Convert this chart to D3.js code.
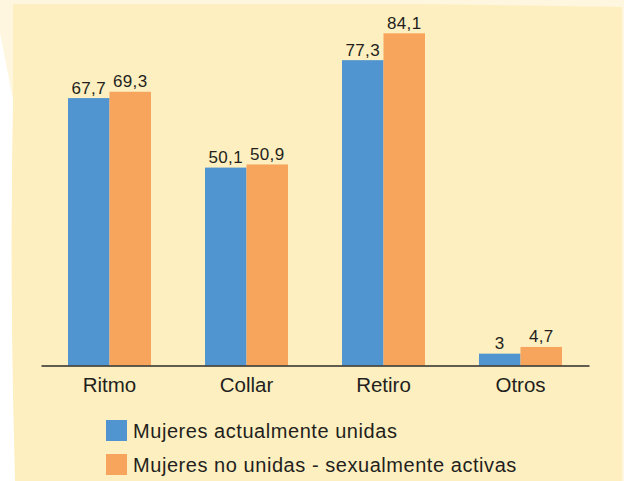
<!DOCTYPE html>
<html>
<head>
<meta charset="utf-8">
<script src="https://cdn.jsdelivr.net/npm/d3@7/dist/d3.min.js"></script>
<style>
  html, body { margin: 0; padding: 0; background: #ffffff; }
  svg { display: block; }
  text { font-family: "Liberation Sans", Arial, Helvetica, sans-serif; fill: #231f20; }
</style>
</head>
<body>
<svg id="chart" width="624" height="481"></svg>
<script>
// Métodos anticonceptivos naturales (%)
const categories = ["Ritmo", "Collar", "Retiro", "Otros"];
const seriesNames = ["Mujeres actualmente unidas", "Mujeres no unidas - sexualmente activas"];
const unidas = [67.7, 50.1, 77.3, 3];
const noUnidas = [69.3, 50.9, 84.1, 4.7];
const colors = ["#5094d0", "#f7a45c"];

const W = 624, H = 481;
const svg = d3.select("#chart");

// Paper-like backdrop
svg.append("rect").attr("width", W).attr("height", H).attr("fill", "#ffffff");
svg.append("path")
  .attr("d", "M0,0 L624,0 L624,481 L620,481 L620,10 L13,10 L13,100 L0,33 Z")
  .attr("fill", "#fef6de");
svg.append("path")
  .attr("d", "M13,4 L420,4 L622,7 L622,481 L15,481 L14,440 L13,395 L12,330 L11.5,250 L12,170 L13,100 Z")
  .attr("fill", "#fdefbf");

const baseY = 365.5;
const x0 = d3.scaleBand().domain(categories).range([41, 589]).padding(0);
const bw = x0.bandwidth();
const barW = 41.5;
const x1 = d3.scaleBand().domain(seriesNames).range([bw / 2 - barW, bw / 2 + barW]).padding(0);
const y = d3.scaleLinear().domain([0, 90]).range([baseY, 10]);

const rows = categories.map((c, i) => ({
  cat: c,
  vals: [
    { s: seriesNames[0], v: unidas[i], color: colors[0] },
    { s: seriesNames[1], v: noUnidas[i], color: colors[1] }
  ]
}));

const fmt = v => String(v).replace(".", ",");

const g = svg.selectAll("g.grp").data(rows).enter().append("g")
  .attr("class", "grp")
  .attr("transform", d => `translate(${x0(d.cat)},0)`);

g.selectAll("rect").data(d => d.vals).enter().append("rect")
  .attr("x", d => x1(d.s))
  .attr("y", d => y(d.v))
  .attr("width", x1.bandwidth())
  .attr("height", d => baseY - y(d.v))
  .attr("fill", d => d.color);

g.selectAll("text.val").data(d => d.vals).enter().append("text")
  .attr("class", "val")
  .attr("x", d => x1(d.s) + x1.bandwidth() / 2)
  .attr("y", d => y(d.v) - 4.5)
  .attr("text-anchor", "middle")
  .style("font-size", "17px")
  .style("letter-spacing", "0.3px")
  .text(d => fmt(d.v));

// Baseline axis with category labels
const xAxis = d3.axisBottom(x0).tickSize(0).tickPadding(0);
const ax = svg.append("g").attr("transform", `translate(0,${baseY})`).call(xAxis);
ax.select(".domain").attr("stroke", "#2b2b2b").attr("stroke-width", 1.5);
ax.selectAll(".tick text")
  .attr("y", 26.5)
  .attr("dy", 0)
  .attr("fill", "#231f20")
  .style("font-family", '"Liberation Sans", Arial, sans-serif')
  .style("font-size", "20.5px");

// Legend
const legend = svg.append("g").attr("transform", "translate(106,420)");
const li = legend.selectAll("g").data(seriesNames).enter().append("g")
  .attr("transform", (d, i) => `translate(0,${i * 34})`);
li.append("rect").attr("width", 21).attr("height", 21)
  .attr("fill", (d, i) => colors[i]);
li.append("text")
  .attr("x", 27)
  .attr("y", 17.5)
  .style("font-size", "20px")
  .style("letter-spacing", "0.55px")
  .text(d => d);
</script>
</body>
</html>
